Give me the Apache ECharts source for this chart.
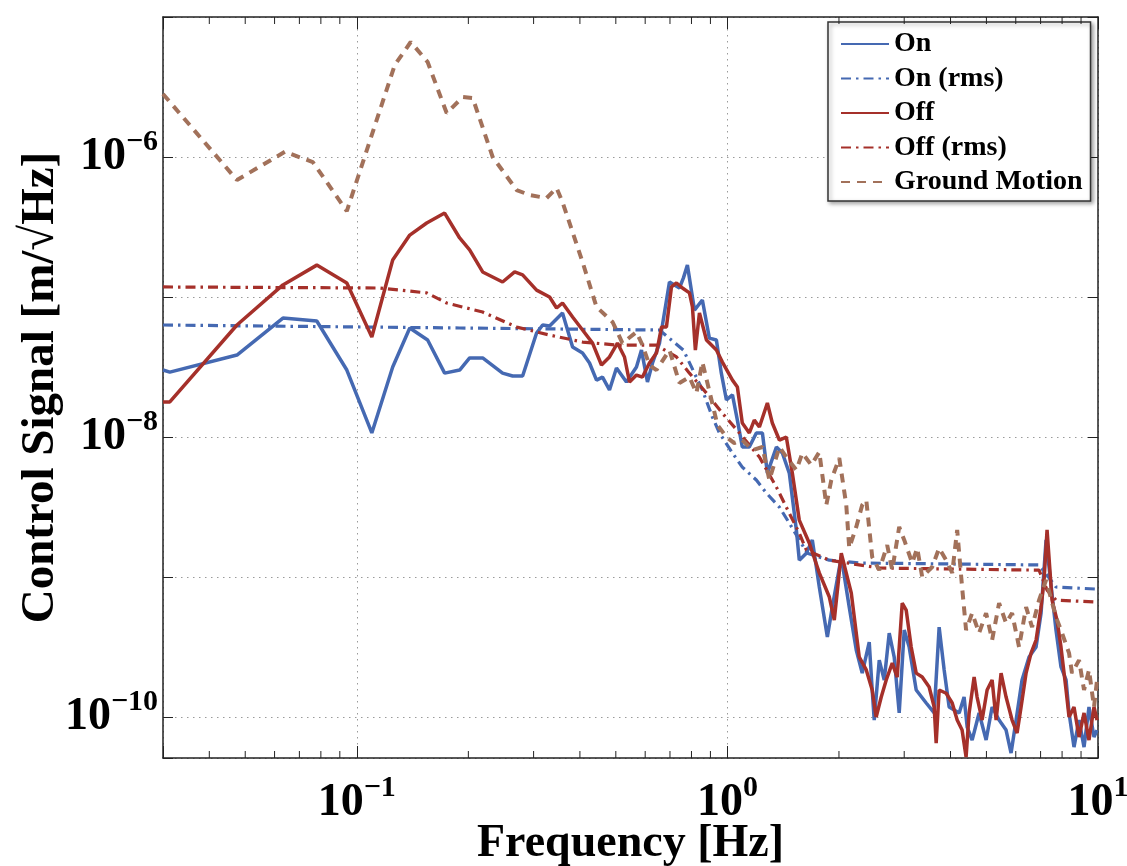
<!DOCTYPE html>
<html><head><meta charset="utf-8">
<script src="https://cdn.jsdelivr.net/npm/echarts@6/dist/echarts.min.js"></script>
<style>html,body{margin:0;padding:0;background:#fff}#c{width:1127px;height:866px}</style>
</head><body><div id="c"></div>
<script>
// ---- data: [frequency (Hz), amplitude (m/sqrt(Hz))] ----
const onSignal = [[0.030,3.01e-8],[0.0313,2.91e-8],[0.0475,3.85e-8],[0.0632,7.08e-8],[0.078,6.74e-8],[0.094,3.01e-8],[0.1098,1.07e-8],[0.125,3.16e-8],[0.139,6.01e-8],[0.1553,4.93e-8],[0.1726,2.86e-8],[0.1895,3.01e-8],[0.2016,3.67e-8],[0.2186,3.67e-8],[0.2474,2.86e-8],[0.2633,2.73e-8],[0.2802,2.73e-8],[0.3056,5.53e-8],[0.3173,6.31e-8],[0.3313,6.2e-8],[0.359,7.69e-8],[0.3822,4.39e-8],[0.4066,3.98e-8],[0.4246,3.38e-8],[0.4435,2.55e-8],[0.4603,2.68e-8],[0.4807,2.17e-8],[0.502,3.11e-8],[0.5341,2.47e-8],[0.5684,3.16e-8],[0.5864,4.18e-8],[0.6086,2.47e-8],[0.628,3.38e-8],[0.6559,4.69e-8],[0.6977,1.28e-7],[0.7424,1.16e-7],[0.761,1.37e-7],[0.78,1.69e-7],[0.815,8.07e-8],[0.856,9.52e-8],[0.894,5.09e-8],[0.934,4.93e-8],[0.963,2.86e-8],[0.994,1.84e-8],[1.032,2.0e-8],[1.064,1.32e-8],[1.097,8.49e-9],[1.146,8.49e-9],[1.197,1.07e-8],[1.243,1.07e-8],[1.282,5.53e-9],[1.356,8.49e-9],[1.407,7.69e-9],[1.469,5.53e-9],[1.535,2.17e-9],[1.563,1.32e-9],[1.633,1.48e-9],[1.695,1.84e-9],[1.770,8.49e-10],[1.861,3.73e-10],[1.919,6.1e-10],[2.029,1.39e-9],[2.132,6.1e-10],[2.227,3.01e-10],[2.311,2.06e-10],[2.414,3.43e-10],[2.459,1.56e-10],[2.490,9.52e-11],[2.569,2.55e-10],[2.650,1.84e-10],[2.733,3.98e-10],[2.819,2.68e-10],[2.908,1.07e-10],[3.000,4.18e-10],[3.094,3.16e-10],[3.232,1.56e-10],[3.439,1.26e-10],[3.614,1.07e-10],[3.727,4.39e-10],[3.845,2.17e-10],[3.966,1.18e-10],[4.221,1.07e-10],[4.352,1.39e-10],[4.436,8.49e-11],[4.575,6.85e-11],[4.777,1.07e-10],[4.990,6.85e-11],[5.180,1.18e-10],[5.409,9.52e-11],[5.649,8.07e-11],[5.827,5.53e-11],[6.012,9.52e-11],[6.238,1.84e-10],[6.516,2.68e-10],[6.806,3.16e-10],[7.021,5.53e-10],[7.242,1.84e-9],[7.703,4.18e-10],[7.946,2.28e-10],[8.200,1.84e-10],[8.354,1.07e-10],[8.615,6.1e-11],[8.889,9.52e-11],[9.169,6.1e-11],[9.456,1.18e-10],[9.755,7.2e-11],[9.94,8.07e-11]];

const onRms = [[0.030,6.31e-8],[0.1895,6.01e-8],[0.6559,5.81e-8],[0.761,4.18e-8],[0.856,2.17e-8],[0.911,1.39e-8],[0.9515,1.07e-8],[1.032,7.69e-9],[1.097,6.1e-9],[1.197,4.93e-9],[1.274,3.98e-9],[1.381,3.16e-9],[1.469,2.43e-9],[1.563,1.84e-9],[1.643,1.48e-9],[1.884,1.32e-9],[2.269,1.26e-9],[6.934,1.22e-9],[7.287,1.03e-9],[7.703,8.49e-10],[9.94,8.2e-10]];

const offSignal = [[0.030,1.78e-8],[0.0313,1.78e-8],[0.0475,6.31e-8],[0.0632,1.22e-7],[0.078,1.69e-7],[0.094,1.26e-7],[0.1098,5.18e-8],[0.125,1.84e-7],[0.139,2.77e-7],[0.1544,3.38e-7],[0.1726,3.98e-7],[0.1895,2.64e-7],[0.2016,2.17e-7],[0.2186,1.51e-7],[0.2474,1.28e-7],[0.2667,1.51e-7],[0.2802,1.44e-7],[0.3056,1.12e-7],[0.3313,1.0e-7],[0.346,8.35e-8],[0.359,9.06e-8],[0.3822,7.2e-8],[0.4066,5.81e-8],[0.4327,4.69e-8],[0.4574,3.27e-8],[0.4807,3.73e-8],[0.5051,4.69e-8],[0.5276,3.73e-8],[0.5444,2.47e-8],[0.5684,2.77e-8],[0.590,2.68e-8],[0.616,3.38e-8],[0.6436,3.98e-8],[0.6641,6.1e-8],[0.6847,6.1e-8],[0.7064,1.18e-7],[0.7289,1.26e-7],[0.7563,1.16e-7],[0.790,1.07e-7],[0.8048,8.49e-8],[0.8196,4.18e-8],[0.8406,7.69e-8],[0.878,4.93e-8],[0.934,4.18e-8],[0.9694,3.43e-8],[1.032,2.55e-8],[1.064,2.28e-8],[1.097,1.26e-8],[1.146,1.07e-8],[1.182,1.32e-8],[1.22,1.18e-8],[1.282,1.75e-8],[1.322,1.26e-8],[1.381,9.52e-9],[1.442,1.0e-8],[1.497,5.53e-9],[1.563,2.55e-9],[1.663,1.75e-9],[1.770,1.07e-9],[1.884,7.2e-10],[1.943,4.93e-10],[2.029,1.48e-9],[2.159,7.69e-10],[2.269,2.68e-10],[2.370,2.17e-10],[2.459,1.56e-10],[2.520,1.0e-10],[2.601,1.39e-10],[2.683,1.84e-10],[2.785,2.43e-10],[2.872,1.93e-10],[2.963,6.52e-10],[3.037,5.81e-10],[3.133,3.16e-10],[3.232,2.06e-10],[3.355,1.93e-10],[3.503,1.64e-10],[3.614,1.18e-10],[3.659,6.52e-11],[3.727,1.56e-10],[3.893,1.48e-10],[4.042,1.26e-10],[4.169,9.52e-11],[4.298,8.07e-11],[4.406,5.18e-11],[4.490,1.07e-10],[4.632,1.93e-10],[4.718,1.39e-10],[4.867,9.52e-11],[5.021,1.56e-10],[5.180,1.84e-10],[5.310,9.52e-11],[5.476,2.06e-10],[5.649,1.39e-10],[5.864,9.52e-11],[6.049,7.69e-11],[6.201,1.18e-10],[6.397,2.06e-10],[6.597,2.86e-10],[6.806,3.55e-10],[7.021,6.1e-10],[7.152,9.52e-10],[7.287,2.17e-9],[7.516,6.85e-10],[7.751,4.93e-10],[7.946,3.16e-10],[8.200,1.56e-10],[8.354,1.0e-10],[8.615,1.18e-10],[8.889,7.2e-11],[9.169,1.07e-10],[9.456,6.85e-11],[9.755,1.18e-10],[9.94,9.52e-11]];

const offRms = [[0.030,1.18e-7],[0.1153,1.16e-7],[0.1544,1.07e-7],[0.1748,9.06e-8],[0.2186,7.81e-8],[0.270,6.1e-8],[0.3313,5.35e-8],[0.4066,4.77e-8],[0.502,4.54e-8],[0.6436,4.54e-8],[0.7289,3.73e-8],[0.790,2.86e-8],[0.878,2.06e-8],[0.9694,1.48e-8],[1.077,1.07e-8],[1.22,7.2e-9],[1.356,4.39e-9],[1.469,2.86e-9],[1.563,2.06e-9],[1.633,1.56e-9],[1.884,1.32e-9],[2.569,1.16e-9],[6.934,1.12e-9],[7.287,8.07e-10],[7.703,6.85e-10],[9.94,6.62e-10]];

const groundMotion = [[0.030,2.82e-6],[0.0475,6.85e-7],[0.064,1.09e-6],[0.0761,9.2e-7],[0.094,4.11e-7],[0.1266,4.54e-6],[0.1398,6.63e-6],[0.1553,4.77e-6],[0.1748,2.06e-6],[0.1931,2.68e-6],[0.2055,2.64e-6],[0.2326,1.0e-6],[0.270,5.81e-7],[0.2926,5.35e-7],[0.3252,5.09e-7],[0.346,6.01e-7],[0.359,4.77e-7],[0.4066,1.78e-7],[0.4435,8.49e-8],[0.49,6.63e-8],[0.521,4.69e-8],[0.5684,5.62e-8],[0.590,4.54e-8],[0.616,3.27e-8],[0.6436,3.01e-8],[0.6977,4.18e-8],[0.7424,2.43e-8],[0.790,2.68e-8],[0.825,2.06e-8],[0.856,3.43e-8],[0.906,1.84e-8],[0.940,1.22e-8],[0.994,1.0e-8],[1.044,9.06e-9],[1.097,9.52e-9],[1.168,8.07e-9],[1.243,8.49e-9],[1.298,4.93e-9],[1.381,8.49e-9],[1.442,7.2e-9],[1.535,5.81e-9],[1.593,7.69e-9],[1.684,6.31e-9],[1.770,7.81e-9],[1.849,3.27e-9],[1.907,4.93e-9],[2.004,7.08e-9],[2.093,3.27e-9],[2.132,1.61e-9],[2.227,2.28e-9],[2.311,3.27e-9],[2.370,3.55e-9],[2.459,1.39e-9],[2.569,1.12e-9],[2.699,1.69e-9],[2.785,1.12e-9],[2.908,2.28e-9],[3.0,1.84e-9],[3.152,1.26e-9],[3.252,1.61e-9],[3.355,1.0e-9],[3.569,1.18e-9],[3.727,1.61e-9],[3.893,1.32e-9],[4.042,1.07e-9],[4.169,2.17e-9],[4.298,8.49e-10],[4.406,4.18e-10],[4.575,5.53e-10],[4.777,3.98e-10],[4.990,5.53e-10],[5.180,3.55e-10],[5.409,6.52e-10],[5.649,4.69e-10],[5.864,5.53e-10],[6.124,3.16e-10],[6.397,6.1e-10],[6.640,4.39e-10],[6.934,6.85e-10],[7.242,9.52e-10],[7.703,5.18e-10],[7.998,3.98e-10],[8.354,2.86e-10],[8.508,2.06e-10],[8.889,2.55e-10],[9.169,1.56e-10],[9.456,2.17e-10],[9.755,1.18e-10],[9.94,1.84e-10]];

const seriesNames = ['On', 'On (rms)', 'Off', 'Off (rms)', 'Ground Motion'];
const minorTicks = [0.04,0.05,0.06,0.07,0.08,0.09,0.2,0.3,0.4,0.5,0.6,0.7,0.8,0.9,2,3,4,5,6,7,8,9];
const xRange = [0.03, 10];
const yRange = [5.1e-11, 1e-5];
const xTitle = 'Frequency [Hz]';
const yTitle = 'Control Signal [m/\u221AHz]';

// ---- styling ----
const FONT = "'Liberation Serif', 'Times New Roman', serif";
const BLUE = '#4569b2', RED = '#a5302a', BROWN = '#a2715a';
const AX = '#222';

function powLabel(v, onlyEven) {
  const e = Math.log10(v), r = Math.round(e);
  if (Math.abs(e - r) > 1e-6) return '';
  if (onlyEven && r % 2 !== 0) return '';
  return '{b|10}{s|' + (r < 0 ? '\u2212' + (-r) : String(r)) + '}';
}
const rich = {
  b: { fontFamily: FONT, fontWeight: 'bold', fontSize: 46, lineHeight: 60, color: '#000' },
  s: { fontFamily: FONT, fontWeight: 'bold', fontSize: 30, lineHeight: 30, verticalAlign: 'top', color: '#000' }
};
const gridLine = { show: true, lineStyle: { color: '#9a9a9a', width: 1, type: [1.5, 4.5] } };

const chart = echarts.init(document.getElementById('c'), null, { renderer: 'canvas' });
chart.setOption({
  backgroundColor: '#fff',
  animation: false,
  grid: { left: 163, right: 29, top: 17, bottom: 108, containLabel: false, outerBoundsMode: 'none' },
  legend: {
    data: seriesNames,
    orient: 'vertical',
    left: 828, top: 22,
    padding: [7, 8, 4, 12],
    itemWidth: 48, itemHeight: 14, itemGap: 4.5,
    backgroundColor: '#fff',
    borderColor: '#333', borderWidth: 1.5,
    shadowColor: 'rgba(0,0,0,0.35)', shadowBlur: 4, shadowOffsetX: 2, shadowOffsetY: 2,
    itemStyle: { opacity: 0 },
    textStyle: { fontFamily: FONT, fontWeight: 'bold', fontSize: 28, lineHeight: 30, color: '#000' }
  },
  xAxis: [{
    type: 'log', logBase: 10, min: xRange[0], max: xRange[1], position: 'bottom',
    name: xTitle, nameLocation: 'middle', nameGap: 63, nameMoveOverlap: false,
    nameTextStyle: { fontFamily: FONT, fontWeight: 'bold', fontSize: 46, color: '#000' },
    axisLine: { show: true, lineStyle: { color: AX, width: 1.5 } },
    axisTick: { show: true, inside: true, length: 12, lineStyle: { color: AX, width: 1 } },
    axisLabel: { margin: 15, formatter: v => powLabel(v, false), rich: rich },
    splitLine: gridLine, minorTick: { show: false }
  }, {
    type: 'log', logBase: 10, min: xRange[0], max: xRange[1], position: 'top',
    axisLine: { show: true, lineStyle: { color: AX, width: 1.5 } },
    axisTick: { show: true, inside: true, length: 12, lineStyle: { color: AX, width: 1 } },
    axisLabel: { show: false }, splitLine: { show: false }
  }],
  yAxis: [{
    type: 'log', logBase: 10, min: yRange[0], max: yRange[1], position: 'left',
    name: yTitle, nameLocation: 'middle', nameGap: 99, nameRotate: 90, nameMoveOverlap: false,
    nameTextStyle: { fontFamily: FONT, fontWeight: 'bold', fontSize: 47, color: '#000' },
    axisLine: { show: true, lineStyle: { color: AX, width: 1.5 } },
    axisTick: { show: true, inside: true, length: 10, lineStyle: { color: AX, width: 1 } },
    axisLabel: { margin: 5, formatter: v => powLabel(v, true), rich: rich },
    splitLine: gridLine
  }, {
    type: 'log', logBase: 10, min: yRange[0], max: yRange[1], position: 'right',
    axisLine: { show: true, lineStyle: { color: AX, width: 1.5 } },
    axisTick: { show: true, inside: true, length: 10, lineStyle: { color: AX, width: 1 } },
    axisLabel: { show: false }, splitLine: { show: false }
  }],
  series: [
    { name: seriesNames[0], type: 'line', data: onSignal, symbol: 'none', z: 3,
      lineStyle: { color: BLUE, width: 3.5 }, itemStyle: { color: BLUE } },
    { name: seriesNames[1], type: 'line', data: onRms, symbol: 'none', z: 3,
      lineStyle: { color: BLUE, width: 3.2, type: [10, 5, 2.5, 5] }, itemStyle: { color: BLUE } },
    { name: seriesNames[2], type: 'line', data: offSignal, symbol: 'none', z: 3,
      lineStyle: { color: RED, width: 3.5 }, itemStyle: { color: RED } },
    { name: seriesNames[3], type: 'line', data: offRms, symbol: 'none', z: 3,
      lineStyle: { color: RED, width: 3.2, type: [10, 5, 2.5, 5] }, itemStyle: { color: RED } },
    { name: seriesNames[4], type: 'line', data: groundMotion, symbol: 'none', z: 3,
      lineStyle: { color: BROWN, width: 4, type: [9, 7] }, itemStyle: { color: BROWN } },
    { name: 'minor ticks', type: 'custom', silent: true, clip: false, z: 4,
      data: minorTicks.map(f => [f, yRange[0]]),
      renderItem: function (params, api) {
        const f = api.value(0);
        const pb = api.coord([f, yRange[0]]);
        const pt = api.coord([f, yRange[1]]);
        const st = { stroke: AX, lineWidth: 1 };
        return { type: 'group', children: [
          { type: 'line', shape: { x1: pb[0], y1: pb[1], x2: pb[0], y2: pb[1] - 7 }, style: st },
          { type: 'line', shape: { x1: pt[0], y1: pt[1], x2: pt[0], y2: pt[1] + 7 }, style: st }
        ] };
      }
    }
  ]
});
</script>
</body></html>
